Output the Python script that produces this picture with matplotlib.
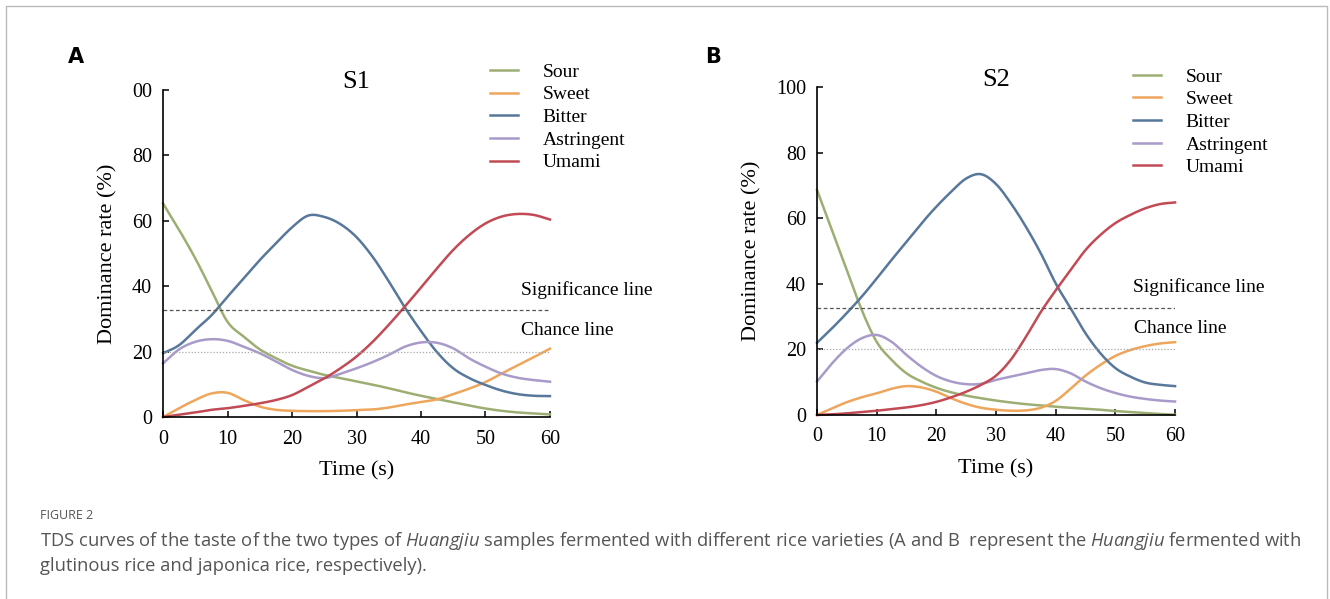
import numpy as np
import matplotlib.pyplot as plt

# time (s), every 2.5 s
t = [0, 2.5, 5, 7.5, 10, 12.5, 15, 17.5, 20, 22.5, 25, 27.5, 30,
     32.5, 35, 37.5, 40, 42.5, 45, 47.5, 50, 52.5, 55, 57.5, 60]

# S1 (glutinous rice)
sour_a = [65.3, 57.2, 48.5, 38.8, 29.1, 24.6, 20.7, 18, 15.7, 14.2, 12.9, 11.9, 10.9,
          9.9, 8.8, 7.6, 6.5, 5.5, 4.5, 3.5, 2.6, 1.9, 1.4, 1.1, 0.8]
sweet_a = [0, 2.7, 5.2, 7.2, 7.4, 5.2, 3.2, 2.2, 1.9, 1.8, 1.8, 1.9, 2.1,
           2.3, 2.9, 3.8, 4.6, 5.4, 7, 8.7, 10.7, 13.3, 15.8, 18.3, 20.9]
bitter_a = [19.5, 22, 26.6, 31.1, 36.8, 42.4, 48, 53.1, 58, 61.6, 61.2, 59, 55,
            49, 41.5, 33.5, 26.3, 19.8, 14.9, 11.9, 9.8, 8.1, 7, 6.5, 6.4]
astr_a = [16.4, 20.7, 23, 23.8, 23.3, 21.5, 19.5, 17, 14.4, 12.6, 11.9, 13.2, 14.9,
          16.8, 19, 21.5, 22.8, 22.7, 21, 17.9, 15.4, 13.3, 12, 11.3, 10.8]
umami_a = [0, 0.7, 1.4, 2.2, 2.7, 3.4, 4.2, 5.2, 6.7, 9.2, 11.8, 14.9, 18.5,
           23, 28.2, 33.8, 39.6, 45.5, 51.1, 55.7, 59.2, 61.3, 62.1, 61.8, 60.4]

# S2 (japonica rice)
sour_b = [68.6, 56.4, 44.2, 32, 22.3, 16.8, 12.7, 10.2, 8.3, 6.9, 5.9, 5.1, 4.4,
          3.8, 3.3, 2.9, 2.5, 2.2, 1.9, 1.6, 1.2, 0.9, 0.6, 0.3, 0.1]
sweet_b = [0, 2, 3.9, 5.4, 6.6, 8, 8.8, 8.4, 7.1, 5.1, 3.4, 2.2, 1.6,
           1.3, 1.4, 2.2, 4.3, 8, 12, 15.3, 18, 19.8, 21, 21.8, 22.2]
bitter_b = [22, 26.4, 31.1, 36.1, 41.6, 47.3, 52.8, 58.4, 63.5, 68.1, 72.1, 73.4, 70.4,
            64.5, 57.4, 49.3, 40.1, 32.5, 24.9, 18.8, 14.3, 11.7, 9.9, 9.2, 8.8]
astr_b = [10.2, 15.7, 20.3, 23.4, 24.4, 22.3, 18.3, 14.7, 11.9, 10.2, 9.4, 9.5, 10.7,
          11.7, 12.7, 13.7, 14, 12.7, 10.2, 8.2, 6.7, 5.6, 4.9, 4.4, 4.1]
umami_b = [0, 0.2, 0.5, 0.9, 1.3, 1.8, 2.3, 3, 4, 5.4, 7.1, 9.2, 12,
           16.9, 23.8, 31.4, 38, 44.2, 50.3, 54.9, 58.5, 61, 63, 64.3, 64.8]

tastes = ['Sour', 'Sweet', 'Bitter', 'Astringent', 'Umami']
colors = ['#9dae72', '#eea55c', '#57789b', '#a99bc9', '#c24a55']

sig_level = 32.7
chance_level = 20


def smooth(x, y, n=15):
    # cubic hermite through the read points (smoothed line look)
    x = np.asarray(x, float)
    y = np.asarray(y, float)
    m = np.empty_like(y)
    m[1:-1] = (y[2:] - y[:-2]) / (x[2:] - x[:-2])
    m[0] = (y[1] - y[0]) / (x[1] - x[0])
    m[-1] = (y[-1] - y[-2]) / (x[-1] - x[-2])
    xs, ys = [], []
    s = np.linspace(0, 1, n, endpoint=False)
    for i in range(len(x) - 1):
        h = x[i+1] - x[i]
        h00 = 2*s**3 - 3*s**2 + 1
        h10 = s**3 - 2*s**2 + s
        h01 = -2*s**3 + 3*s**2
        h11 = s**3 - s**2
        xs.extend(x[i] + s*h)
        ys.extend(h00*y[i] + h10*h*m[i] + h01*y[i+1] + h11*h*m[i+1])
    xs.append(x[-1])
    ys.append(y[-1])
    return np.array(xs), np.clip(ys, 0, None)


plt.rcParams['font.family'] = 'Liberation Serif'
plt.rcParams['xtick.direction'] = 'in'
plt.rcParams['ytick.direction'] = 'in'
plt.rcParams['mathtext.fontset'] = 'custom'
plt.rcParams['mathtext.it'] = 'Open Sans:italic'
plt.rcParams['mathtext.rm'] = 'Open Sans'

fig = plt.figure(figsize=(13.3, 5.99), dpi=100)

panels = [
    ('A', 'S1', [sour_a, sweet_a, bitter_a, astr_a, umami_a],
     [0.1226, 0.3038, 0.2909, 0.5459], ['0', '20', '40', '60', '80', '00'],
     0.051, 1.025, (1.096, 1.044), (0.845, 1.082)),
    ('B', 'S2', [sour_b, sweet_b, bitter_b, astr_b, umami_b],
     [0.6143, 0.3072, 0.2692, 0.5476], ['0', '20', '40', '60', '80', '100'],
     0.530, 1.021, (1.067, 1.014), (0.883, 1.058)),
]

for letter, title, series, pos, ylabels, lx, ty, txt_x, leg_xy in panels:
    ax = fig.add_axes(pos)
    for name, vals, c in zip(tastes, series, colors):
        xs, ys = smooth(t, vals)
        ax.plot(xs, ys, color=c, lw=1.8, label=name, clip_on=False)
    ax.plot([0, 60], [sig_level]*2, color='#555555', lw=0.9, ls=(0, (3, 2)))
    ax.plot([0, 60], [chance_level]*2, color='#aaaaaa', lw=0.9, ls=(0, (1, 1.5)))
    ax.set_xlim(0, 60)
    ax.set_ylim(0, 100)
    ax.set_xticks(range(0, 61, 10))
    ax.set_yticks(range(0, 101, 20))
    ax.set_yticklabels(ylabels)
    for s in ['top', 'right']:
        ax.spines[s].set_visible(False)
    ax.spines['left'].set_linewidth(1.2)
    ax.spines['bottom'].set_linewidth(1.2)
    ax.tick_params(labelsize=14.5, length=4, width=1.1)
    ax.tick_params(axis='x', pad=9)
    ax.tick_params(axis='y', pad=8)
    ax.set_xlabel('Time (s)', fontsize=16, labelpad=9)
    ax.set_ylabel('Dominance rate (%)', fontsize=16, labelpad=10)
    ax.text(0.5, ty, title, transform=ax.transAxes, fontsize=19,
            ha='center', va='center')
    ax.text(txt_x[0], sig_level + 3.5, 'Significance line', transform=ax.get_yaxis_transform(),
            fontsize=14, ha='center', va='bottom')
    ax.text(txt_x[1], chance_level + 3.8, 'Chance line', transform=ax.get_yaxis_transform(),
            fontsize=14, ha='center', va='bottom')
    ax.legend(loc='upper left', bbox_to_anchor=leg_xy, frameon=False,
              fontsize=14, handlelength=1.45, handletextpad=1.25, labelspacing=0.26,
              borderaxespad=0, borderpad=0)
    fig.text(lx, 0.905, letter, fontsize=15, fontweight='bold', family='DejaVu Sans',
             ha='left', va='center')

# outer frame of the figure box
fig.add_artist(plt.Line2D([0.0045, 0.0045, 0.9977, 0.9977], [0, 0.99, 0.99, 0],
                          transform=fig.transFigure, color='#bbbbbb', lw=1))

fig.text(0.030, 0.140, 'FIGURE 2', fontsize=9, color='#555555', family='Open Sans',
         va='center')
fig.text(0.030, 0.097,
         'TDS curves of the taste of the two types of $Huangjiu$ samples fermented with different rice '
         'varieties (A and B  represent the $Huangjiu$ fermented with',
         fontsize=13.2, color='#555555', family='Open Sans', va='center')
fig.text(0.030, 0.055, 'glutinous rice and japonica rice, respectively).',
         fontsize=13.2, color='#555555', family='Open Sans', va='center')

plt.savefig('out.png', dpi=100)
